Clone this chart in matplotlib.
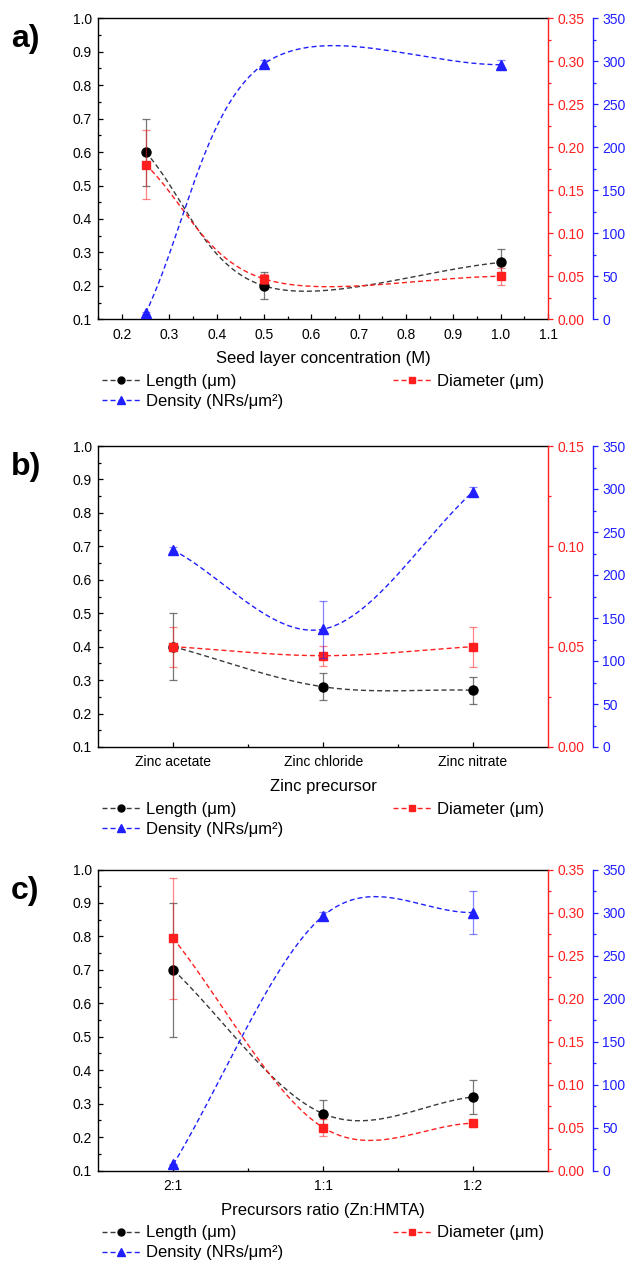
import numpy as np
import matplotlib
matplotlib.use('Agg')
import matplotlib.pyplot as plt
from matplotlib.lines import Line2D
from matplotlib.ticker import MultipleLocator, FormatStrFormatter, FixedLocator

plt.rcParams['font.family'] = ['Liberation Sans', 'DejaVu Sans']

# ---------------- data ----------------
seed_conc = [0.25, 0.5, 1.0]
a_length = [0.60, 0.20, 0.27]
a_length_err = [0.10, 0.04, 0.04]
a_diam = [0.180, 0.047, 0.050]
a_diam_err = [0.040, 0.006, 0.010]
a_dens = [7, 297, 296]
a_dens_err = [1, 5, 5]

precursors = ['Zinc acetate', 'Zinc chloride', 'Zinc nitrate']
b_length = [0.40, 0.28, 0.27]
b_length_err = [0.10, 0.04, 0.04]
b_diam = [0.050, 0.0455, 0.050]
b_diam_err = [0.010, 0.005, 0.010]
b_dens = [229, 137, 297]
b_dens_err = [3, 33, 5]

ratios = ['2:1', '1:1', '1:2']
c_length = [0.70, 0.27, 0.32]
c_length_err = [0.20, 0.04, 0.05]
c_diam = [0.270, 0.050, 0.055]
c_diam_err = [0.070, 0.010, 0.004]
c_dens = [7, 296, 300]
c_dens_err = [1, 5, 25]

BLACK = '#000000'
BLINE = '#3a3a3a'
RED = '#ff1f1f'
BLUE = '#1f1fff'

W, H = 629, 1268
fig = plt.figure(figsize=(W / 100, H / 100), dpi=100)


def smooth(x, y, n=80):
    P = np.column_stack([np.asarray(x, float), np.asarray(y, float)])
    m = np.zeros_like(P)
    m[0] = P[1] - P[0]
    m[-1] = P[-1] - P[-2]
    m[1:-1] = (P[2:] - P[:-2]) / 2
    t = np.linspace(0, 1, n)[:, None]
    out = []
    for i in range(len(P) - 1):
        c0, c3 = P[i], P[i + 1]
        c1 = c0 + m[i] / 3
        c2 = c3 - m[i + 1] / 3
        B = (1 - t) ** 3 * c0 + 3 * (1 - t) ** 2 * t * c1 + 3 * (1 - t) * t ** 2 * c2 + t ** 3 * c3
        out.append(B if i == 0 else B[1:])
    B = np.vstack(out)
    return B[:, 0], B[:, 1]


DASH = (0, (3.6, 2.2))
LEFT_PX, WIDTH_PX, HEIGHT_PX = 98.3, 449.7, 301


def panel(top_px, letter, x, length, length_err, diam, diam_err, dens, dens_err,
          xlim, xmajor, xminor, xticklabels, xfmt, red_max, xlabel):
    bottom_px = top_px + HEIGHT_PX
    ax = fig.add_axes([LEFT_PX / W, 1 - bottom_px / H, WIDTH_PX / W, HEIGHT_PX / H])
    axr = ax.twinx()
    axb = ax.twinx()

    # host axis
    ax.set_xlim(*xlim)
    ax.set_ylim(0.1, 1.0)
    ax.yaxis.set_major_locator(MultipleLocator(0.1))
    ax.yaxis.set_minor_locator(MultipleLocator(0.05))
    ax.yaxis.set_major_formatter(FormatStrFormatter('%.1f'))
    ax.xaxis.set_major_locator(FixedLocator(xmajor))
    ax.xaxis.set_minor_locator(FixedLocator(xminor))
    if xticklabels is not None:
        ax.set_xticklabels(xticklabels)
    else:
        ax.xaxis.set_major_formatter(FormatStrFormatter(xfmt))
    ax.tick_params(axis='both', which='major', direction='in', length=3.6, width=0.9,
                   labelsize=10, top=False, right=False)
    ax.tick_params(axis='both', which='minor', direction='in', length=2.2, width=0.9,
                   top=False, right=False)
    ax.tick_params(axis='x', which='major', pad=6)
    ax.tick_params(axis='y', which='major', pad=4.5)
    for s in ['left', 'bottom', 'top']:
        ax.spines[s].set_linewidth(1.0)
    ax.spines['right'].set_visible(False)
    ax.set_xlabel(xlabel, fontsize=12, labelpad=7)

    # red axis
    axr.set_ylim(0, red_max)
    axr.yaxis.set_major_locator(MultipleLocator(0.05))
    axr.yaxis.set_minor_locator(MultipleLocator(0.025))
    axr.yaxis.set_major_formatter(FormatStrFormatter('%.2f'))
    axr.tick_params(axis='y', which='major', direction='out', length=3.6, width=0.9,
                    colors=RED, labelsize=10, pad=3.5)
    axr.tick_params(axis='y', which='minor', direction='out', length=2.2, width=0.9,
                    colors=RED)
    for s in ['left', 'bottom', 'top']:
        axr.spines[s].set_visible(False)
    axr.spines['right'].set_color(RED)
    axr.spines['right'].set_linewidth(1.0)

    # blue axis
    axb.spines['right'].set_position(('axes', 1.099))
    axb.set_ylim(0, 350)
    axb.yaxis.set_major_locator(MultipleLocator(50))
    axb.yaxis.set_minor_locator(MultipleLocator(25))
    axb.tick_params(axis='y', which='major', direction='out', length=3.6, width=0.9,
                    colors=BLUE, labelsize=10, pad=3.5)
    axb.tick_params(axis='y', which='minor', direction='out', length=2.2, width=0.9,
                    colors=BLUE)
    for s in ['left', 'bottom', 'top']:
        axb.spines[s].set_visible(False)
    axb.spines['right'].set_color(BLUE)
    axb.spines['right'].set_linewidth(1.0)

    # length series
    xs, ys = smooth(x, length)
    ax.plot(xs, ys, color=BLINE, lw=1.0, linestyle=DASH, zorder=2)
    ax.errorbar(x, length, yerr=length_err, fmt='none', ecolor='#555555', elinewidth=0.9,
                capsize=2.6, capthick=0.9, alpha=0.8, zorder=3)
    ax.plot(x, length, 'o', color=BLACK, ms=6.5, zorder=4)

    # diameter series
    xs, ys = smooth(x, diam)
    axr.plot(xs, ys, color=RED, lw=1.0, linestyle=DASH, zorder=2)
    axr.errorbar(x, diam, yerr=diam_err, fmt='none', ecolor=RED, elinewidth=0.9,
                 capsize=2.6, capthick=0.9, alpha=0.55, zorder=3)
    axr.plot(x, diam, 's', color=RED, ms=6, zorder=4)

    # density series
    xs, ys = smooth(x, dens)
    axb.plot(xs, ys, color=BLUE, lw=1.0, linestyle=DASH, zorder=2)
    axb.errorbar(x, dens, yerr=dens_err, fmt='none', ecolor=BLUE, elinewidth=0.9,
                 capsize=2.6, capthick=0.9, alpha=0.55, zorder=3)
    axb.plot(x, dens, '^', color=BLUE, ms=7, zorder=4)

    # panel letter
    fig.text(11 / W, 1 - (top_px + 21) / H, letter, fontsize=23, fontweight='bold',
             ha='left', va='center')

    # legends
    h_len = Line2D([], [], color=BLINE, lw=1.0, linestyle=DASH, marker='o',
                   markersize=5, markerfacecolor=BLACK, markeredgecolor=BLACK)
    h_dia = Line2D([], [], color=RED, lw=1.0, linestyle=DASH, marker='s',
                   markersize=4.5, markerfacecolor=RED, markeredgecolor=RED)
    h_den = Line2D([], [], color=BLUE, lw=1.0, linestyle=DASH, marker='^',
                   markersize=5.5, markerfacecolor=BLUE, markeredgecolor=BLUE)
    leg_top = bottom_px + 55
    kw = dict(loc='upper left', frameon=False, fontsize=12, handlelength=2.3,
              handletextpad=0.35, borderpad=0, borderaxespad=0, labelspacing=0.3,
              numpoints=1)
    fig.legend([h_len, h_den], ['Length (μm)', 'Density (NRs/μm²)'],
               bbox_to_anchor=(101.7 / W, 1 - leg_top / H), **kw)
    fig.legend([h_dia], ['Diameter (μm)'],
               bbox_to_anchor=(393 / W, 1 - leg_top / H), **kw)


panel(18.3, 'a)', seed_conc, a_length, a_length_err, a_diam, a_diam_err, a_dens, a_dens_err,
      (0.15, 1.1), np.arange(2, 12) / 10, np.arange(3, 22, 2) / 20, None, '%.1f', 0.35,
      'Seed layer concentration (M)')

idx = np.arange(len(precursors))
panel(446, 'b)', idx, b_length, b_length_err, b_diam, b_diam_err, b_dens, b_dens_err,
      (-0.5, 2.5), idx, [0.5, 1.5], precursors, None, 0.15, 'Zinc precursor')

idx = np.arange(len(ratios))
panel(869.5, 'c)', idx, c_length, c_length_err, c_diam, c_diam_err, c_dens, c_dens_err,
      (-0.5, 2.5), idx, [0.5, 1.5], ratios, None, 0.35, 'Precursors ratio (Zn:HMTA)')

fig.savefig('out.png', dpi=100)
